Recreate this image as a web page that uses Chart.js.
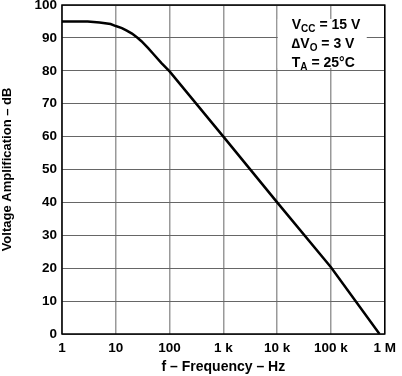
<!DOCTYPE html>
<html>
<head>
<meta charset="utf-8">
<script src="https://cdn.jsdelivr.net/npm/chart.js@4/dist/chart.umd.min.js"></script>
<style>
  html, body { margin: 0; padding: 0; background: #fff; }
  #wrap { width: 402px; height: 376px; }
</style>
</head>
<body>
<div id="wrap"><canvas id="chart" width="402" height="376"></canvas></div>
<script>
// frequency (Hz) and gain (dB)
const freqs = [1, 3, 5, 8, 10, 13, 16, 20, 25, 30, 40, 50, 70, 100, 1000, 10000, 100000, 800000];
const gainDb = [95, 95, 94.7, 94.2, 93.6, 93, 92.2, 91.3, 90.1, 89, 86.9, 85.1, 82.4, 79.8, 60, 40, 20.3, 0];

const xTickValues = [1, 10, 100, 1000, 10000, 100000, 1000000];
const xTickLabels = ['1', '10', '100', '1 k', '10 k', '100 k', '1 M'];

// condition text lines: [main, subscript, rest]
const noteLines = [
  ['V', 'CC', ' = 15 V'],
  ['\u2206V', 'O', ' = 3 V'],
  ['T', 'A', ' = 25\u00B0C'],
];

const FONT = 'Liberation Sans, Arial, Helvetica, sans-serif';

// frame and condition box
const framePlugin = {
  id: 'frame',
  afterDraw(chart) {
    const { ctx, chartArea: a } = chart;
    ctx.save();
    // white box behind the conditions text
    ctx.fillStyle = '#fff';
    ctx.fillRect(a.right - 107, a.top + 14, 89, 49);
    ctx.fillStyle = '#000';
    ctx.textBaseline = 'alphabetic';
    let y = a.top + 24;
    noteLines.forEach(([main, sub, rest]) => {
      let x = a.right - 93;
      ctx.font = 'bold 14px ' + FONT;
      ctx.fillText(main, x, y);
      x += ctx.measureText(main).width;
      ctx.font = 'bold 10px ' + FONT;
      ctx.fillText(sub, x, y + 3);
      x += ctx.measureText(sub).width;
      ctx.font = 'bold 14px ' + FONT;
      ctx.fillText(rest, x, y);
      y += 19;
    });
    // plot border
    ctx.strokeStyle = '#000';
    ctx.lineWidth = 1.5;
    ctx.strokeRect(a.left, a.top, a.right - a.left, a.bottom - a.top);
    ctx.restore();
  }
};

new Chart(document.getElementById('chart'), {
  type: 'line',
  data: {
    datasets: [{
      data: freqs.map((f, i) => ({ x: f, y: gainDb[i] })),
      borderColor: '#000',
      borderWidth: 2.5,
      pointRadius: 0,
      tension: 0,
      fill: false,
    }],
  },
  options: {
    responsive: false,
    animation: false,
    layout: { padding: { top: 5, right: 12, left: 0, bottom: 0 } },
    plugins: { legend: { display: false }, tooltip: { enabled: false } },
    scales: {
      x: {
        type: 'logarithmic',
        min: 1,
        max: 1000000,
        afterBuildTicks: (scale) => {
          scale.ticks = xTickValues.map(v => ({ value: v }));
        },
        afterFit: (scale) => { scale.height = 42; },
        ticks: {
          color: '#000',
          padding: 6,
          maxRotation: 0,
          autoSkip: false,
          font: { family: FONT, size: 13.5, weight: 'bold' },
          callback: (v) => {
            const i = xTickValues.indexOf(v);
            return i >= 0 ? xTickLabels[i] : '';
          },
        },
        grid: { color: '#999', lineWidth: 1.5, drawTicks: false },
        border: { display: false },
        title: {
          display: true,
          text: 'f \u2013 Frequency \u2013 Hz',
          color: '#000',
          font: { family: FONT, size: 14, weight: 'bold' },
          padding: { top: 0, bottom: 0 },
        },
      },
      y: {
        min: 0,
        max: 100,
        afterFit: (scale) => {
          scale.width = 62;
          scale.paddingTop = 0;
          scale.paddingBottom = 0;
        },
        ticks: {
          stepSize: 10,
          color: '#000',
          padding: 5,
          font: { family: FONT, size: 13.5, weight: 'bold' },
        },
        grid: { color: '#666', lineWidth: 1, drawTicks: false },
        border: { display: false },
        title: {
          display: true,
          text: 'Voltage Amplification \u2013 dB',
          color: '#000',
          font: { family: FONT, size: 13, weight: 'bold' },
          padding: { top: 0, bottom: 0 },
        },
      },
    },
  },
  plugins: [framePlugin],
});
</script>
</body>
</html>
